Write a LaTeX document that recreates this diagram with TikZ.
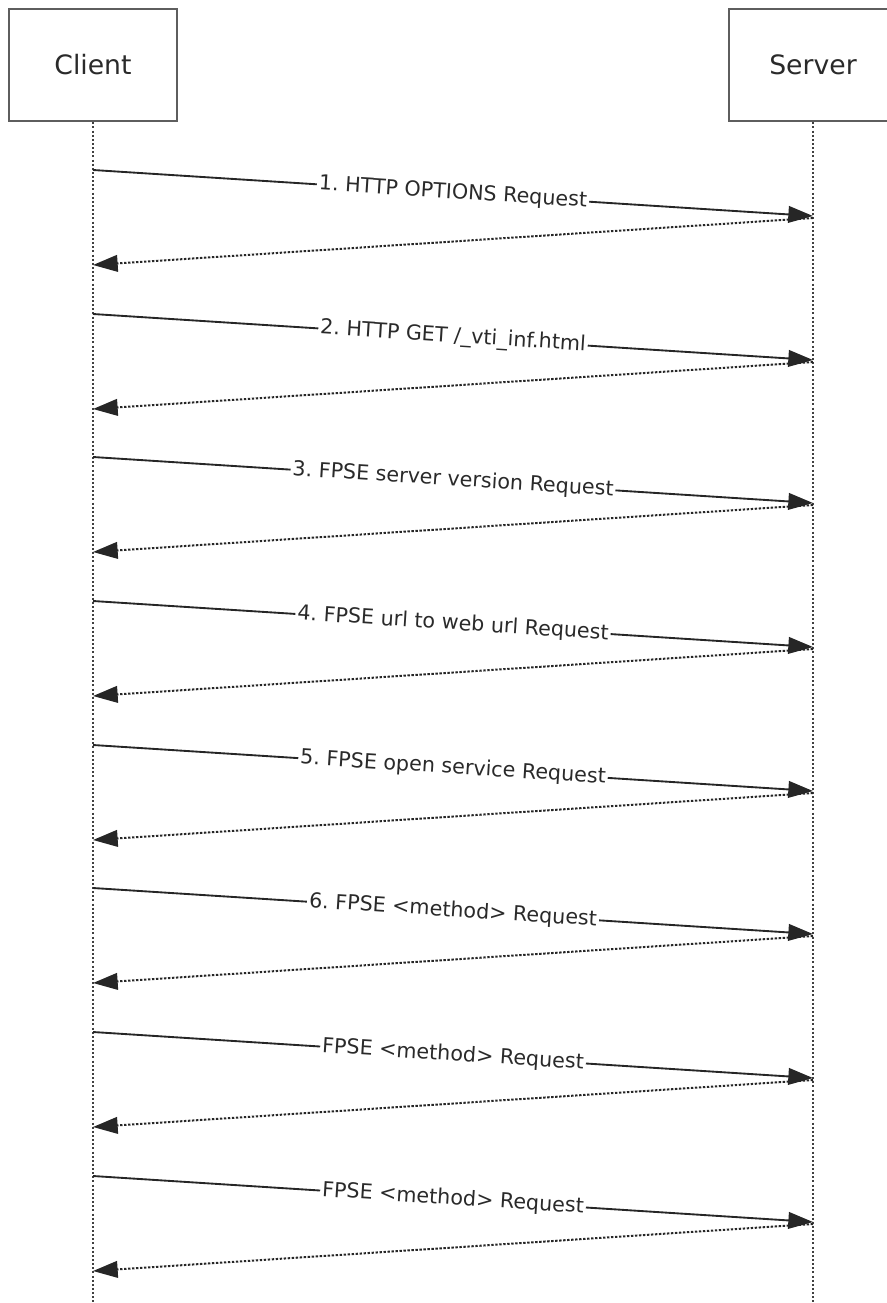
\documentclass[tikz,border=0pt]{standalone}
\usepackage{fontspec}
\setmainfont{DejaVu Sans}
\usetikzlibrary{arrows.meta}
\usetikzlibrary{positioning}

\definecolor{boxgray}{HTML}{5E5E5E}
\definecolor{txtgray}{HTML}{2A2A2A}
\definecolor{linegray}{HTML}{404040}

\tikzset{
  lifeline/.style={draw=linegray,line width=1.6pt,dash pattern=on 1.5pt off 1.6pt},
  req/.style={draw=black!85,line width=1.4pt,-{Triangle[length=18.5pt,width=12.5pt]}},
  resp/.style={draw=black!85,line width=1.5pt,dash pattern=on 1.8pt off 1.2pt,-{Triangle[length=18.5pt,width=12.5pt]}},
  msglabel/.style={sloped,fill=white,inner sep=1.5pt,text=txtgray,font=\fontsize{15.5}{18}\selectfont}
}

\begin{document}
\frenchspacing
\begin{tikzpicture}[x=0.75pt,y=-0.75pt]
    \useasboundingbox (0,0) rectangle (887,1303);
    \begin{scope}[every node/.style={draw=boxgray,line width=2pt,minimum width=126pt,minimum height=84pt,text=txtgray,font=\fontsize{20}{24}\selectfont}]
    \node (client) at (93,65) {Client};
    \node (server) at (813,65) {Server};
    \end{scope}
    \coordinate (clientend) at (93,1303);
    \coordinate (serverend) at (813,1303);
    \path (client) edge[lifeline] (clientend);
    \path (server) edge[lifeline] (serverend);
    % message end points on the lifelines
    \coordinate (c1) at (93,170);  \coordinate (s1) at (813,216);  \coordinate (s1r) at (813,218);  \coordinate (c1r) at (93,265);
    \coordinate (c2) at (93,314);  \coordinate (s2) at (813,360);  \coordinate (s2r) at (813,362);  \coordinate (c2r) at (93,409);
    \coordinate (c3) at (93,457);  \coordinate (s3) at (813,503);  \coordinate (s3r) at (813,505);  \coordinate (c3r) at (93,552);
    \coordinate (c4) at (93,601);  \coordinate (s4) at (813,647);  \coordinate (s4r) at (813,649);  \coordinate (c4r) at (93,696);
    \coordinate (c5) at (93,745);  \coordinate (s5) at (813,791);  \coordinate (s5r) at (813,793);  \coordinate (c5r) at (93,840);
    \coordinate (c6) at (93,888);  \coordinate (s6) at (813,934);  \coordinate (s6r) at (813,936);  \coordinate (c6r) at (93,983);
    \coordinate (c7) at (93,1032); \coordinate (s7) at (813,1078); \coordinate (s7r) at (813,1080); \coordinate (c7r) at (93,1127);
    \coordinate (c8) at (93,1176); \coordinate (s8) at (813,1222); \coordinate (s8r) at (813,1224); \coordinate (c8r) at (93,1271);
    % requests
    \path (c1) edge[req] node[msglabel] {1. HTTP OPTIONS Request} (s1);
    \path (c2) edge[req] node[msglabel] {2. HTTP GET /\_vti\_inf.html} (s2);
    \path (c3) edge[req] node[msglabel] {3. FPSE server version Request} (s3);
    \path (c4) edge[req] node[msglabel] {4. FPSE url to web url Request} (s4);
    \path (c5) edge[req] node[msglabel] {5. FPSE open service Request} (s5);
    \path (c6) edge[req] node[msglabel] {6. FPSE <method> Request} (s6);
    \path (c7) edge[req] node[msglabel] {FPSE <method> Request} (s7);
    \path (c8) edge[req] node[msglabel] {FPSE <method> Request} (s8);
    % responses
    \path (s1r) edge[resp] (c1r);
    \path (s2r) edge[resp] (c2r);
    \path (s3r) edge[resp] (c3r);
    \path (s4r) edge[resp] (c4r);
    \path (s5r) edge[resp] (c5r);
    \path (s6r) edge[resp] (c6r);
    \path (s7r) edge[resp] (c7r);
    \path (s8r) edge[resp] (c8r);
\end{tikzpicture}
\end{document}
